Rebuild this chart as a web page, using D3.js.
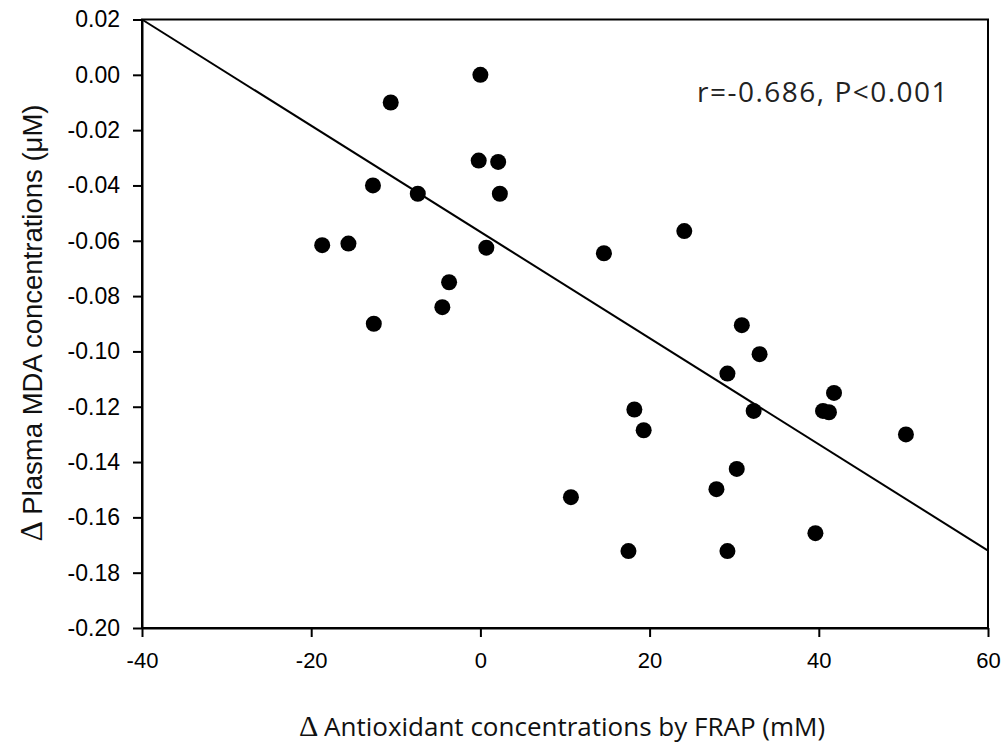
<!DOCTYPE html>
<html>
<head>
<meta charset="utf-8">
<script src="https://cdn.jsdelivr.net/npm/d3@7"></script>
<style>
  body { margin: 0; background: #fff; }
  .axis path, .axis line { stroke: #000; stroke-width: 2px; }
  .axis text { fill: #000; }
</style>
</head>
<body>
<div class="chart"></div>
<script>
// data: change in FRAP (mM) vs change in plasma MDA (uM)
const frap = [
  0.0, -10.6, -0.2, 2.1, -12.7, -7.4, 2.3, -18.7, -15.6, 0.7, -3.7, -4.5, -12.6,
  14.6, 24.1, 30.9, 33.0, 29.2, 41.8, 18.2, 32.3, 40.5, 41.2, 19.3, 50.3, 30.3, 27.9, 10.7, 39.6, 17.5, 29.2
];
const mda = [
  0.000, -0.010, -0.031, -0.0315, -0.040, -0.043, -0.043, -0.0616, -0.061, -0.0625, -0.075, -0.084, -0.090,
  -0.0645, -0.0565, -0.0905, -0.101, -0.108, -0.115, -0.121, -0.1215, -0.1215, -0.122, -0.1285, -0.130, -0.1425, -0.1498, -0.1527, -0.1657, -0.1722, -0.1722
];
// fitted regression line end points
const fitX = [-40, 60];
const fitY = [0.02, -0.172];

const xTicks = [-40, -20, 0, 20, 40, 60];
const yTicks = [0.02, 0, -0.02, -0.04, -0.06, -0.08, -0.10, -0.12, -0.14, -0.16, -0.18, -0.20];

const data = frap.map((d, i) => ({x: d, y: mda[i]}));

const margin = ({top: 19.5, right: 18, bottom: 116, left: 142});
const width = 1006 - margin.left - margin.right;
const height = 744 - margin.top - margin.bottom;

const root = d3.select('.chart')
  .append('svg')
  .attr('width', 1006)
  .attr('height', 744);

const svg = root.append('g')
  .attr('transform', 'translate(' + margin.left + ',' + margin.top + ')');

const xScale = d3.scaleLinear().domain([-40, 60]).range([0, width]);
const yScale = d3.scaleLinear().domain([-0.20, 0.02]).range([height, 0]);

// frame
svg.append('rect')
  .attr('width', width)
  .attr('height', height)
  .attr('fill', 'none')
  .attr('stroke', '#000')
  .attr('stroke-width', 2);

const xAxis = d3.axisBottom(xScale)
  .tickValues(xTicks)
  .tickSize(9)
  .tickSizeOuter(0)
  .tickPadding(15)
  .tickFormat(d => String(d));

const yAxis = d3.axisLeft(yScale)
  .tickValues(yTicks)
  .tickSize(9)
  .tickSizeOuter(0)
  .tickPadding(13)
  .tickFormat(d => d3.format('.2f')(d).replace('−', '-'));

svg.append('g')
  .attr('class', 'axis x-axis')
  .attr('transform', `translate(0, ${height})`)
  .call(xAxis)
  .call(g => g.selectAll('text')
    .attr('font-family', '"Liberation Sans", Arial, sans-serif')
    .attr('font-size', 22));

svg.append('g')
  .attr('class', 'axis y-axis')
  .call(yAxis)
  .call(g => g.selectAll('text')
    .attr('font-family', '"Liberation Sans", Arial, sans-serif')
    .attr('font-size', 23));

// regression line
svg.append('line')
  .attr('x1', xScale(fitX[0]))
  .attr('y1', yScale(fitY[0]))
  .attr('x2', xScale(fitX[1]))
  .attr('y2', yScale(fitY[1]))
  .attr('stroke', '#000')
  .attr('stroke-width', 2);

svg.selectAll('circle')
  .data(data)
  .enter()
  .append('circle')
  .attr('cx', d => xScale(d.x))
  .attr('cy', d => yScale(d.y))
  .attr('r', 8)
  .attr('fill', '#000');

// annotation
svg.append('text')
  .attr('x', 555)
  .attr('y', 82)
  .attr('font-family', '"Open Sans", sans-serif')
  .attr('font-size', 28)
  .attr('letter-spacing', 1.5)
  .attr('fill', '#222')
  .text('r=-0.686, P<0.001');

// axis titles
const xt = root.append('text')
  .attr('x', 562)
  .attr('y', 736)
  .attr('text-anchor', 'middle')
  .attr('font-family', '"Open Sans", sans-serif')
  .attr('font-size', 26)
  .attr('fill', '#111');
xt.append('tspan')
  .attr('font-family', '"Liberation Serif", serif')
  .attr('font-size', 30)
  .text('\u0394 ');
xt.append('tspan').text('Antioxidant concentrations by FRAP (mM)');

const yt = root.append('text')
  .attr('transform', 'translate(42, 323) rotate(-90)')
  .attr('text-anchor', 'middle')
  .attr('font-family', '"Liberation Sans", Arial, sans-serif')
  .attr('font-size', 27.5)
  .attr('fill', '#111');
yt.append('tspan')
  .attr('font-family', '"Liberation Serif", serif')
  .attr('font-size', 32)
  .text('\u0394 ');
yt.append('tspan').text('Plasma MDA concentrations (\u03bcM)');
</script>
</body>
</html>
